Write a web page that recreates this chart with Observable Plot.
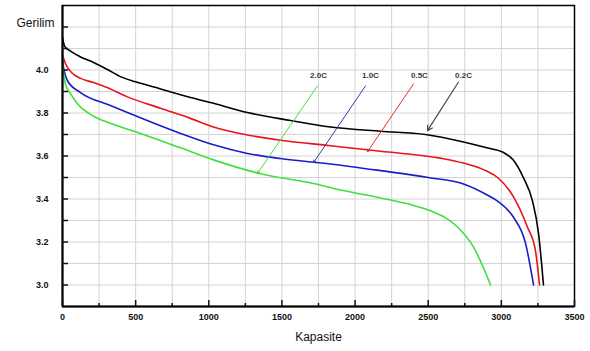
<!DOCTYPE html>
<html>
<head>
<meta charset="utf-8">
<script src="https://cdn.jsdelivr.net/npm/d3@7"></script>
<script src="https://cdn.jsdelivr.net/npm/@observablehq/plot@0.6"></script>
<style>
  html, body { margin: 0; padding: 0; background: #fff; }
  #chart svg { display: block; }
</style>
</head>
<body>
<div id="chart"></div>
<script>
// ---- data ----
const seriesNames = ["0.2C", "0.5C", "1.0C", "2.0C"];
const seriesColors = ["#000000", "#e8141c", "#1c1cc8", "#3ee03e"];

const cap02 = [0, 15, 55, 120, 212, 300, 400, 500, 670, 875, 1032, 1264, 1559, 1832, 2174, 2481, 2741, 2900, 3015, 3083, 3150, 3213, 3254, 3275, 3288];
const volt02 = [4.15, 4.11, 4.088, 4.062, 4.035, 4.005, 3.968, 3.945, 3.912, 3.872, 3.845, 3.802, 3.765, 3.735, 3.715, 3.70, 3.665, 3.638, 3.616, 3.58, 3.50, 3.39, 3.24, 3.10, 3.0];

const cap05 = [0, 20, 60, 120, 212, 300, 444, 670, 875, 1032, 1264, 1490, 1832, 2174, 2584, 2741, 2900, 2974, 3083, 3178, 3233, 3261];
const volt05 = [4.07, 4.03, 3.99, 3.962, 3.942, 3.92, 3.875, 3.822, 3.775, 3.735, 3.698, 3.673, 3.648, 3.622, 3.59, 3.567, 3.53, 3.50, 3.41, 3.27, 3.16, 3.0];

const cap10 = [0, 10, 34, 123, 328, 554, 807, 1032, 1264, 1490, 1832, 2174, 2500, 2741, 2900, 2974, 3083, 3165, 3220];
const volt10 = [4.04, 4.0, 3.95, 3.895, 3.835, 3.772, 3.705, 3.652, 3.612, 3.588, 3.563, 3.532, 3.50, 3.47, 3.42, 3.39, 3.315, 3.195, 3.0];

const cap20 = [0, 5, 20, 55, 100, 212, 328, 554, 807, 1032, 1340, 1716, 1900, 2174, 2400, 2516, 2700, 2810, 2878, 2926];
const volt20 = [4.09, 4.0, 3.935, 3.89, 3.845, 3.785, 3.752, 3.70, 3.638, 3.582, 3.52, 3.472, 3.442, 3.405, 3.37, 3.345, 3.27, 3.176, 3.08, 3.0];

const xTickLabels = [0, 500, 1000, 1500, 2000, 2500, 3000, 3500];
const xMinorTicks = [250, 750, 1250, 1750, 2250, 2750, 3250];
const yTickLabels = [3.0, 3.2, 3.4, 3.6, 3.8, 4.0];
const yMinorTicks = [3.1, 3.3, 3.5, 3.7, 3.9, 4.1, 4.2];
const xGrid = [250, 500, 750, 1000, 1250, 1500, 1750, 2000, 2250, 2500, 2750, 3000, 3250];
const yGrid = [3.0, 3.1, 3.2, 3.3, 3.4, 3.5, 3.6, 3.7, 3.8, 3.9, 4.0, 4.1, 4.2];

// annotation labels and leader lines (data coordinates)
const annLabels = ["2.0C", "1.0C", "0.5C", "0.2C"];
const annLabelX = [1750, 2105, 2440, 2741];
const annLabelY = [3.977, 3.977, 3.977, 3.977];
const annFromX = [1743, 2071, 2399, 2707];
const annFromY = [3.926, 3.926, 3.935, 3.944];
const annToX = [1333, 1716, 2085, 2495];
const annToY = [3.519, 3.569, 3.62, 3.718];
const annColors = ["#4cd84c", "#3a3aa8", "#e83030", "#4a4a4a"];

const axisTitleY = "Gerilim";
const axisTitleX = "Kapasite";

// ---- build tables ----
const caps = [cap02, cap05, cap10, cap20];
const volts = [volt02, volt05, volt10, volt20];
const rows = [];
seriesNames.forEach((s, i) => caps[i].forEach((c, j) => rows.push({series: s, c, v: volts[i][j]})));
const anns = annLabels.map((t, i) => ({t, lx: annLabelX[i], ly: annLabelY[i], x1: annFromX[i], y1: annFromY[i], x2: annToX[i], y2: annToY[i], color: annColors[i], gray: i === 3}));

const font = "'Liberation Sans', Arial, sans-serif";

const chart = Plot.plot({
  width: 590,
  height: 351,
  marginLeft: 62,
  marginRight: 16,
  marginTop: 5,
  marginBottom: 45,
  style: {fontFamily: font, background: "#fff", color: "#111"},
  x: {domain: [0, 3500]},
  y: {domain: [2.9, 4.3]},
  color: {domain: seriesNames, range: seriesColors},
  marks: [
    Plot.gridX(xGrid, {stroke: "#d4d4d4", strokeOpacity: 1}),
    Plot.gridY(yGrid, {stroke: "#d4d4d4", strokeOpacity: 1}),
    Plot.line(rows, {x: "c", y: "v", z: "series", stroke: "series", strokeWidth: 1.6, curve: "monotone-x"}),
    Plot.arrow(anns.filter(d => !d.gray), {x1: "x1", y1: "y1", x2: "x2", y2: "y2", stroke: "color", strokeWidth: 1, headLength: 4}),
    Plot.arrow(anns.filter(d => d.gray), {x1: "x1", y1: "y1", x2: "x2", y2: "y2", stroke: "color", strokeWidth: 1.2, headLength: 7}),
    Plot.text(anns, {x: "lx", y: "ly", text: "t", fontSize: 8, fontWeight: "bold", fill: "#3a3a3a"}),
    Plot.frame({stroke: "#000", strokeWidth: 1.5}),
    Plot.ruleX([0], {stroke: "#000", strokeWidth: 2}),
    Plot.ruleY([2.9], {stroke: "#000", strokeWidth: 2}),
    Plot.axisX(xTickLabels, {tickSize: -6, tickPadding: 13, tickFormat: d => String(d), fontSize: 9, fontWeight: "bold", strokeWidth: 1.5}),
    Plot.axisX(xMinorTicks, {tickSize: -3, tickFormat: () => "", strokeWidth: 1.5}),
    Plot.axisY(yTickLabels, {tickSize: -6, tickPadding: 20, tickFormat: d => d.toFixed(1), fontSize: 9, fontWeight: "bold", strokeWidth: 1.5, label: null}),
    Plot.axisY(yMinorTicks, {tickSize: -6, tickFormat: () => "", strokeWidth: 1.5, label: null}),
    Plot.text([axisTitleY], {frameAnchor: "top-left", dx: -27, dy: 13, text: d => d, fontSize: 12, textAnchor: "middle", fill: "#111"}),
    Plot.text([axisTitleX], {frameAnchor: "bottom", dy: 34, text: d => d, fontSize: 12, textAnchor: "middle", fill: "#111"})
  ]
});
document.getElementById("chart").appendChild(chart);
</script>
</body>
</html>
